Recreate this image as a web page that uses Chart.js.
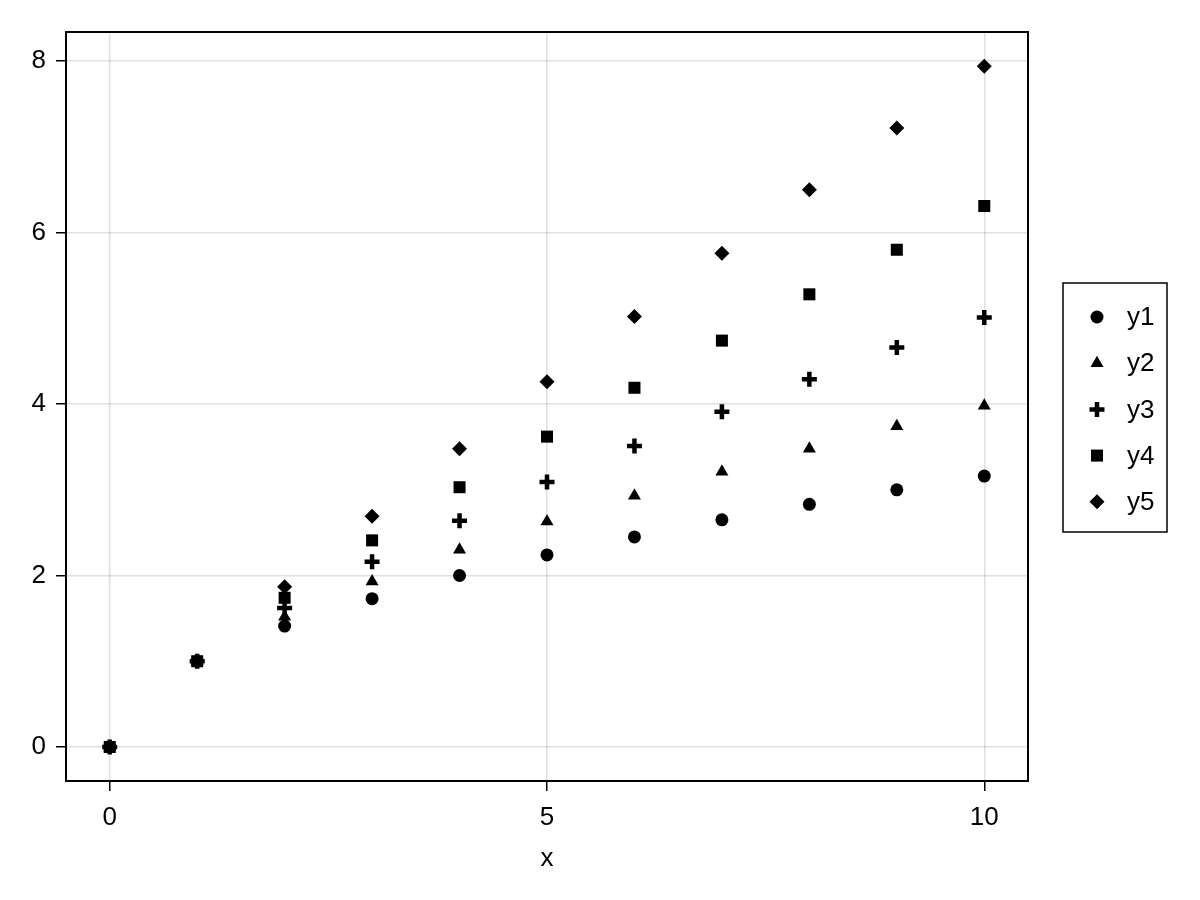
<!DOCTYPE html>
<html>
<head>
<meta charset="utf-8">
<script src="https://cdn.jsdelivr.net/npm/chart.js@4/dist/chart.umd.min.js"></script>
<style>
  html, body { margin: 0; padding: 0; background: #fff; }
  #wrap { width: 1200px; height: 900px; }
</style>
</head>
<body>
<div id="wrap"><canvas id="chart" width="1200" height="900"></canvas></div>
<script>
const xs = [0, 1, 2, 3, 4, 5, 6, 7, 8, 9, 10];
const y1 = [0, 1, 1.41, 1.73, 2.00, 2.24, 2.45, 2.65, 2.83, 3.00, 3.16];
const y2 = [0, 1, 1.52, 1.93, 2.30, 2.63, 2.93, 3.21, 3.48, 3.74, 3.98];
const y3 = [0, 1, 1.62, 2.16, 2.64, 3.09, 3.51, 3.91, 4.29, 4.66, 5.01];
const y4 = [0, 1, 1.74, 2.41, 3.03, 3.62, 4.19, 4.74, 5.28, 5.80, 6.31];
const y5 = [0, 1, 1.87, 2.69, 3.48, 4.26, 5.02, 5.76, 6.50, 7.22, 7.94];
const seriesNames = ['y1', 'y2', 'y3', 'y4', 'y5'];
const xTicks = [0, 5, 10];
const yTicks = [0, 2, 4, 6, 8];

const FONT = "'Liberation Sans', Arial, sans-serif";
const FSIZE = 26;

const markers = [
    { pointStyle: 'circle', radius: 6.5, borderWidth: 0 },
    { pointStyle: 'triangle', radius: 7.5, borderWidth: 0 },
    { pointStyle: 'cross', radius: 7.5, borderWidth: 4.5 },
    { pointStyle: 'rect', radius: 8.5, borderWidth: 0 },
    { pointStyle: 'rectRot', radius: 7.5, borderWidth: 0 }
];

const datasets = [y1, y2, y3, y4, y5].map((ys, i) => ({
    label: seriesNames[i],
    data: xs.map((x, j) => ({ x: x, y: ys[j] })),
    pointStyle: markers[i].pointStyle,
    pointRadius: markers[i].radius,
    pointHoverRadius: markers[i].radius,
    pointBorderWidth: markers[i].borderWidth,
    pointBackgroundColor: '#000',
    pointBorderColor: '#000',
    showLine: false
}));

// frame on top and right + boxed legend
const framePlugin = {
    id: 'frame',
    afterDraw(chart) {
        const ctx = chart.ctx;
        const a = chart.chartArea;
        ctx.save();
        ctx.strokeStyle = '#000';
        ctx.lineWidth = 2;
        ctx.strokeRect(a.left, a.top, a.right - a.left, a.bottom - a.top);

        // legend
        const bx = 1063, by = 283, bw = 104, bh = 249;
        ctx.lineWidth = 1.5;
        ctx.strokeRect(bx, by, bw, bh);
        ctx.font = FSIZE + 'px ' + FONT;
        ctx.textBaseline = 'middle';
        ctx.textAlign = 'left';
        seriesNames.forEach((name, i) => {
            const cy = 317 + i * 46.2;
            ctx.fillStyle = '#000';
            ctx.strokeStyle = '#000';
            ctx.lineWidth = markers[i].borderWidth;
            Chart.helpers.drawPoint(ctx, {
                pointStyle: markers[i].pointStyle,
                radius: markers[i].radius,
                borderWidth: markers[i].borderWidth,
                rotation: 0
            }, 1097, cy);
            ctx.fillText(name, 1127, cy + 1);
        });
        ctx.restore();
    }
};

new Chart(document.getElementById('chart').getContext('2d'), {
    type: 'scatter',
    data: { datasets: datasets },
    options: {
        responsive: false,
        animation: false,
        layout: { padding: { top: 32, right: 172, left: 0, bottom: 0 } },
        scales: {
            x: {
                type: 'linear',
                min: -0.5,
                max: 10.5,
                afterBuildTicks: s => { s.ticks = xTicks.map(v => ({ value: v })); },
                afterFit: s => { s.height = 900 - 781; },
                grid: { color: 'rgba(0,0,0,0.12)', lineWidth: 1.5, tickColor: '#000', tickWidth: 1.5, tickLength: 10 },
                border: { display: true, color: '#000', width: 2 },
                ticks: { color: '#000', font: { family: FONT, size: FSIZE }, padding: 11, maxRotation: 0 },
                title: { display: true, text: 'x', color: '#000', font: { family: FONT, size: FSIZE }, padding: { top: 0, bottom: 26 } }
            },
            y: {
                type: 'linear',
                min: -0.397,
                max: 8.34,
                afterBuildTicks: s => { s.ticks = yTicks.map(v => ({ value: v })); },
                afterFit: s => { s.width = 66; },
                grid: { color: 'rgba(0,0,0,0.12)', lineWidth: 1.5, tickColor: '#000', tickWidth: 1.5, tickLength: 10 },
                border: { display: true, color: '#000', width: 2 },
                ticks: { color: '#000', font: { family: FONT, size: FSIZE }, padding: 10 }
            }
        },
        plugins: {
            legend: { display: false },
            tooltip: { enabled: false }
        }
    },
    plugins: [framePlugin]
});
</script>
</body>
</html>
